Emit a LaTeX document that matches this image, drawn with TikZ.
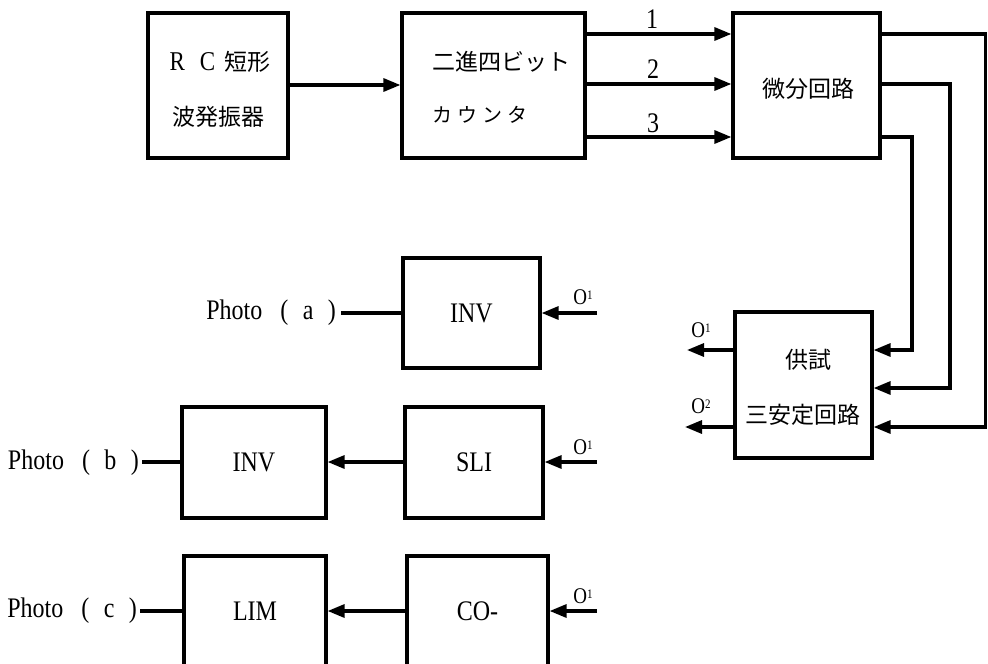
\documentclass[tikz,border=0pt]{standalone}
\usepackage{fontspec}
\setmainfont{Liberation Serif}
\newfontfamily\jp{Noto Sans CJK JP}
\usetikzlibrary{arrows.meta}
\newcommand{\tl}[1]{\scalebox{1}[1.18]{#1}}
\newcommand{\Osub}[1]{\tl{O\raisebox{0.45ex}{\fontsize{11}{11}\selectfont #1}}}
\newcommand{\ph}[1]{Photo\hspace{0.75em}(\hspace{0.6em}#1\hspace{0.6em})}
\begin{document}
\begin{tikzpicture}[x=1pt,y=-1pt,
  box/.style={draw,line width=3.2pt,inner sep=0pt,font=\fontsize{24}{24}\selectfont},
  conn/.style={line width=3.2pt},
  arr/.style={conn,-{Triangle[length=17pt,width=13pt]}},
  jpt/.style={font=\jp\fontsize{23}{23}\selectfont,inner sep=0pt},
  lat/.style={font=\fontsize{24}{24}\selectfont,inner sep=0pt},
  olab/.style={font=\fontsize{19}{19}\selectfont,inner sep=0pt}]
\useasboundingbox (0,0) rectangle (988,664);

% top row
\node[box,minimum width=140pt,minimum height=145pt] (rc) at (218,85.5) {};
\node[jpt] (rct1) at (220,62) {\tl{\rmfamily R\hspace{0.65em}C}\hspace{0.4em}短形};
\node[jpt] (rct2) at (218,117) {波発振器};

\node[box,minimum width=183pt,minimum height=145pt] (cnt) at (493.5,85.5) {};
\node[jpt,anchor=west] (cntt1) at (432,62) {二進四ビット};
\node[jpt,anchor=west,font=\jp\fontsize{20}{20}\selectfont] (cntt2) at (432,115) {カ\hspace{0.25em}ウ\hspace{0.25em}ン\hspace{0.25em}タ};

\node[box,minimum width=147pt,minimum height=145pt] (dif) at (806.5,85.5) {};
\node[jpt] (dift) at (808,89) {微分回路};

\node[box,minimum width=137pt,minimum height=146pt] (tst) at (803.5,385) {};
\node[jpt] (tstt1) at (808,360) {供試};
\node[jpt] (tstt2) at (803,415) {三安定回路};

\draw[arr] (rc.east |- 0,85) -- (cnt.west |- 0,85);
\draw[arr] (cnt.east |- 0,34) -- (dif.west |- 0,34);
\draw[arr] (cnt.east |- 0,84) -- (dif.west |- 0,84);
\draw[arr] (cnt.east |- 0,137) -- (dif.west |- 0,137);
\node[lat] (l1) at (652,19) {\tl{1}};
\node[lat] (l2) at (653,69) {\tl{2}};
\node[lat] (l3) at (653,123) {\tl{3}};

\draw[arr] (dif.east |- 0,34) -- (985.5,34) |- (tst.east |- 0,427);
\draw[arr] (dif.east |- 0,84) -- (950,84) |- (tst.east |- 0,388);
\draw[arr] (dif.east |- 0,137) -- (912,137) |- (tst.east |- 0,350);

\coordinate (to1) at (687,350);
\coordinate (to2) at (685,427);
\draw[arr] (tst.west |- to1) -- (to1);
\draw[arr] (tst.west |- to2) -- (to2);
\node[olab] (lo1) at (701,330) {\Osub{1}};
\node[olab] (lo2) at (701,406) {\Osub{2}};

% row a
\node[box,minimum width=137pt,minimum height=110pt] (inva) at (471.5,313) {\tl{INV}};
\node[lat,anchor=east] (pha) at (336,313) {\tl{\ph{a}}};
\draw[conn] ([xshift=5pt]pha.east) -- (inva.west);
\coordinate (ia) at (597,313);
\draw[arr] (ia) -- (inva.east);
\node[olab] (oa) at (583,297) {\Osub{1}};

% row b
\node[box,minimum width=144pt,minimum height=111pt] (invb) at (254,462.5) {\tl{INV}};
\node[box,minimum width=138pt,minimum height=111pt] (sli) at (474,462.5) {\tl{SLI}};
\node[lat,anchor=east] (phb) at (139,462.5) {\tl{\ph{b}}};
\draw[conn] ([xshift=3pt]phb.east |- 0,462) -- (invb.west |- 0,462);
\draw[arr] (sli.west |- 0,462) -- (invb.east |- 0,462);
\coordinate (ib) at (597,462);
\draw[arr] (ib) -- (sli.east |- ib);
\node[olab] (ob) at (583,447) {\Osub{1}};

% row c
\node[box,minimum width=142pt,minimum height=110pt] (lim) at (255,611) {\tl{LIM}};
\node[box,minimum width=141pt,minimum height=110pt] (co) at (477.5,611) {\tl{CO-}};
\node[lat,anchor=east] (phc) at (137,611) {\tl{\ph{c}}};
\draw[conn] ([xshift=3pt]phc.east) -- (lim.west);
\draw[arr] (co.west) -- (lim.east);
\coordinate (ic) at (597,611);
\draw[arr] (ic) -- (co.east);
\node[olab] (oc) at (583,596) {\Osub{1}};
\end{tikzpicture}
\end{document}
